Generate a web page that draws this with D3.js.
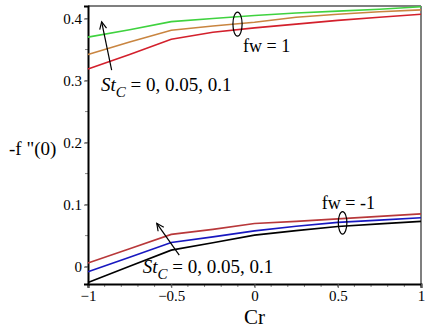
<!DOCTYPE html>
<html><head><meta charset="utf-8">
<script src="https://cdn.jsdelivr.net/npm/d3@7"></script>
<style>html,body{margin:0;padding:0;background:#fff;}svg{display:block;}
svg text{font-family:"Liberation Serif","DejaVu Serif",serif;}</style>
</head><body>
<svg id="c" width="430" height="333"></svg>
<script>
// ---- data ----
const cr = [-1, -0.75, -0.5, -0.25, 0, 0.25, 0.5, 0.75, 1];
// fw = 1
const fw1_st0   = [0.370, 0.382, 0.395, 0.400, 0.405, 0.409, 0.412, 0.415, 0.419];
const fw1_st005 = [0.342, 0.362, 0.381, 0.388, 0.394, 0.402, 0.407, 0.411, 0.414];
const fw1_st01  = [0.3185, 0.342, 0.3665, 0.378, 0.385, 0.391, 0.397, 0.402, 0.407];
// fw = -1
const fwm1_st01  = [0.006, 0.029, 0.052, 0.060, 0.0695, 0.073, 0.077, 0.081, 0.085];
const fwm1_st005 = [-0.0084, 0.0153, 0.039, 0.048, 0.0577, 0.065, 0.0713, 0.075, 0.0787];
const fwm1_st0   = [-0.0255, 0.0005, 0.0266, 0.0385, 0.0508, 0.058, 0.0647, 0.069, 0.073];
const xTicks = [-1, -0.5, 0, 0.5, 1];
const xTickLabels = ["\u22121", "\u22120.5", "0", "0.5", "1"];
const yTicks = [0, 0.1, 0.2, 0.3, 0.4];
const yTickLabels = ["0", "0.1", "0.2", "0.3", "0.4"];

const series = [
  {v: fw1_st0, c: "#3fd23f"},
  {v: fw1_st005, c: "#c98540"},
  {v: fw1_st01, c: "#d3202c"},
  {v: fwm1_st01, c: "#b8383a"},
  {v: fwm1_st005, c: "#1818c0"},
  {v: fwm1_st0, c: "#000000"}
];

const svg = d3.select("#c");
const L = 88, R = 421, T = 6, B = 284;
const x = d3.scaleLinear().domain([-1, 1]).range([L, R]);
const y = d3.scaleLinear().domain([-0.028, 0.4202]).range([B, T]);
const serif = "Liberation Serif, DejaVu Serif, serif";

// frame: top & right gray
svg.append("line").attr("x1", L).attr("x2", R).attr("y1", T).attr("y2", T).attr("stroke", "#555").attr("stroke-width", 1.5);
svg.append("line").attr("x1", R).attr("x2", R).attr("y1", T).attr("y2", B).attr("stroke", "#555").attr("stroke-width", 1.5);

// minor ticks
const xMinor = d3.range(-1, 1.0001, 0.1);
svg.append("g").selectAll("line").data(xMinor).join("line")
  .attr("x1", d => x(d)).attr("x2", d => x(d)).attr("y1", B).attr("y2", B + 3)
  .attr("stroke", "#888").attr("stroke-width", 1);
const yMinor = d3.range(0, 0.4001, 0.05);
svg.append("g").selectAll("line").data(yMinor).join("line")
  .attr("x1", L - 3).attr("x2", L).attr("y1", d => y(d)).attr("y2", d => y(d))
  .attr("stroke", "#888").attr("stroke-width", 1);

// axes
const xAxis = d3.axisBottom(x).tickValues(xTicks).tickSize(4).tickPadding(2)
  .tickFormat((d, i) => xTickLabels[i]);
const gx = svg.append("g").attr("transform", `translate(0,${B})`).call(xAxis);
gx.attr("font-family", null);
gx.select(".domain").attr("stroke", "#000").attr("stroke-width", 2);
gx.selectAll(".tick line").attr("stroke", "#555");
gx.selectAll("text").style("font-family", serif).attr("font-size", 15).attr("fill", "#000");

const yAxis = d3.axisLeft(y).tickValues(yTicks).tickSize(4).tickPadding(2)
  .tickFormat((d, i) => yTickLabels[i]);
const gy = svg.append("g").attr("transform", `translate(${L},0)`).call(yAxis);
gy.attr("font-family", null);
gy.select(".domain").attr("stroke", "#000").attr("stroke-width", 2);
gy.selectAll(".tick line").attr("stroke", "#555");
gy.selectAll("text").style("font-family", serif).attr("font-size", 15).attr("fill", "#000");

// lines
const line = d3.line().x((d, i) => x(cr[i])).y(d => y(d));
svg.append("g").selectAll("path").data(series).join("path")
  .attr("d", s => line(s.v)).attr("fill", "none")
  .attr("stroke", s => s.c).attr("stroke-width", 1.6);

// axis titles
svg.append("text").attr("x", x(0)).attr("y", 324).attr("text-anchor", "middle")
  .style("font-family", serif).attr("font-size", 21).text("Cr");
svg.append("text").attr("x", 9).attr("y", 155)
  .style("font-family", serif).attr("font-size", 19).text("-f \"(0)");

// annotations (data space)
const arrows = [
  {from: [-0.858, 0.317], to: [-0.918, 0.3947]},
  {from: [-0.452, 0.0187], to: [-0.587, 0.0698]}
];
arrows.forEach(a => {
  const x1 = x(a.from[0]), y1 = y(a.from[1]), x2 = x(a.to[0]), y2 = y(a.to[1]);
  svg.append("line").attr("x1", x1).attr("y1", y1).attr("x2", x2).attr("y2", y2)
    .attr("stroke", "#000").attr("stroke-width", 1.2);
  const ang = Math.atan2(y2 - y1, x2 - x1), h = 8, w = 0.45;
  const p1 = [x2 - h * Math.cos(ang - w), y2 - h * Math.sin(ang - w)];
  const p2 = [x2 - h * Math.cos(ang + w), y2 - h * Math.sin(ang + w)];
  svg.append("path").attr("d", `M${p1}L${x2},${y2}L${p2}`).attr("fill", "none")
    .attr("stroke", "#000").attr("stroke-width", 1.2);
});

const stLabels = [[-0.922, 0.283], [-0.671, -0.0108]];
stLabels.forEach(p => {
  const t = svg.append("text").attr("x", x(p[0])).attr("y", y(p[1]))
    .style("font-family", serif).attr("font-size", 19);
  t.append("tspan").attr("font-style", "italic").text("St");
  t.append("tspan").attr("font-style", "italic").attr("font-size", 15).attr("dy", 6).text("C");
  t.append("tspan").attr("dy", -6).text(" = 0, 0.05, 0.1");
});

const ellipses = [{c: [-0.102, 0.391], rx: 4.6, ry: 12}, {c: [0.529, 0.0706], rx: 4.3, ry: 11.3}];
ellipses.forEach(e => {
  svg.append("ellipse").attr("cx", x(e.c[0])).attr("cy", y(e.c[1]))
    .attr("rx", e.rx).attr("ry", e.ry).attr("fill", "none").attr("stroke", "#000").attr("stroke-width", 1.2);
});

const fwLabels = [{p: [-0.069, 0.346], t: "fw = 1"}, {p: [0.404, 0.0924], t: "fw = -1"}];
fwLabels.forEach(f => {
  svg.append("text").attr("x", x(f.p[0])).attr("y", y(f.p[1]))
    .style("font-family", serif).attr("font-size", 18).text(f.t);
});
</script>
</body></html>
